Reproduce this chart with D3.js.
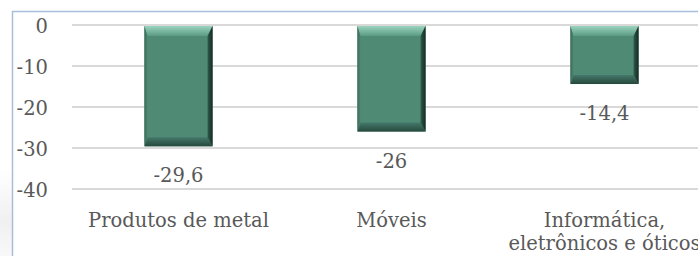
<!DOCTYPE html>
<html><head><meta charset="utf-8">
<script src="https://cdn.jsdelivr.net/npm/d3@7"></script>
<style>html,body{margin:0;padding:0;background:#fff;}svg{display:block;}</style>
</head><body>
<script>
const categories = ["Produtos de metal", "Móveis", "Informática, eletrônicos e óticos"];
const values = [-29.6, -26, -14.4];
const valueLabels = ["-29,6", "-26", "-14,4"];
const yTicks = [0, -10, -20, -30, -40];

const W = 698, H = 256;
const font = "'DejaVu Serif', serif";
const fs = 19.5;
const textColor = "#595959";

const svg = d3.select("body").append("svg").attr("width", W).attr("height", H);

const defs = svg.append("defs");
const gTop = defs.append("linearGradient").attr("id","gTop").attr("x1",0).attr("y1",0).attr("x2",0).attr("y2",1);
gTop.append("stop").attr("offset","0%").attr("stop-color","#9ad4bf");
gTop.append("stop").attr("offset","100%").attr("stop-color","#5c9a83");
const gBot = defs.append("linearGradient").attr("id","gBot").attr("x1",0).attr("y1",0).attr("x2",0).attr("y2",1);
gBot.append("stop").attr("offset","0%").attr("stop-color","#44786a");
gBot.append("stop").attr("offset","100%").attr("stop-color","#26483c");
const gRight = defs.append("linearGradient").attr("id","gRight").attr("x1",0).attr("y1",0).attr("x2",1).attr("y2",0);
gRight.append("stop").attr("offset","0%").attr("stop-color","#2f5a4b");
gRight.append("stop").attr("offset","100%").attr("stop-color","#152a22");
const gLeft = defs.append("linearGradient").attr("id","gLeft").attr("x1",0).attr("y1",0).attr("x2",1).attr("y2",0);
gLeft.append("stop").attr("offset","0%").attr("stop-color","#3a6b59");
gLeft.append("stop").attr("offset","100%").attr("stop-color","#4d8670");
const gShadow = defs.append("linearGradient").attr("id","gShadow").attr("x1",0).attr("y1",0).attr("x2",0).attr("y2",1);
gShadow.append("stop").attr("offset","0%").attr("stop-color","#f0f0f0").attr("stop-opacity",0);
gShadow.append("stop").attr("offset","60%").attr("stop-color","#f0f0f0").attr("stop-opacity",1);
gShadow.append("stop").attr("offset","100%").attr("stop-color","#f3f3f3").attr("stop-opacity",0.6);

// border
svg.append("rect").attr("x",0).attr("y",170).attr("width",12).attr("height",86).attr("fill","url(#gShadow)");
svg.append("path").attr("d",`M12.5,${H} L12.5,11.5 L${W},11.5`).attr("fill","none").attr("stroke","#a7bedb").attr("stroke-width",1.5);

const y = d3.scaleLinear().domain([-40, 0]).range([189, 25]);
const x = d3.scaleBand().domain(categories).range([72, 711]).paddingInner(0.68).paddingOuter(0.34);

// gridlines
svg.append("g").selectAll("line").data(yTicks).join("line")
  .attr("x1", 72).attr("x2", W).attr("y1", d => y(d)).attr("y2", d => y(d))
  .attr("stroke", "#d9d9d9").attr("stroke-width", 1.8);

// y axis labels
const yAxis = d3.axisLeft(y).tickValues(yTicks).tickSize(0).tickPadding(0).tickFormat(d => d3.format("d")(d).replace("−","-"));
const yg = svg.append("g").attr("transform","translate(48,0)").call(yAxis);
yg.select(".domain").remove();
yg.selectAll("text").attr("font-family", font).attr("font-size", fs).attr("fill", textColor).attr("dy","0.36em");

// bars
const bars = svg.append("g").selectAll("g").data(categories).join("g");
bars.each(function(c, i) {
  const g = d3.select(this);
  const x0 = x(c), x1 = x(c) + x.bandwidth();
  const y0 = y(0) + 1, y1 = y(values[i]);
  const bt = 10, bb = 9, bl = 3, br = 5;
  g.append("rect").attr("x", x0).attr("y", y0).attr("width", x1 - x0).attr("height", y1 - y0).attr("fill", "#4f8a74");
  g.append("path").attr("d", `M${x0},${y0} L${x1},${y0} L${x1-br},${y0+bt} L${x0+bl},${y0+bt} Z`).attr("fill","url(#gTop)");
  g.append("path").attr("d", `M${x0},${y1} L${x1},${y1} L${x1-br},${y1-bb} L${x0+bl},${y1-bb} Z`).attr("fill","url(#gBot)");
  g.append("path").attr("d", `M${x1},${y0} L${x1},${y1} L${x1-br},${y1-bb} L${x1-br},${y0+bt} Z`).attr("fill","url(#gRight)");
  g.append("path").attr("d", `M${x0},${y0} L${x0},${y1} L${x0+bl},${y1-bb} L${x0+bl},${y0+bt} Z`).attr("fill","url(#gLeft)");
});

// value labels
svg.append("g").selectAll("text").data(categories).join("text")
  .attr("x", c => x(c) + x.bandwidth()/2)
  .attr("y", (c, i) => y(values[i]) + 36)
  .attr("text-anchor","middle").attr("font-family", font).attr("font-size", fs).attr("fill", textColor)
  .text((c, i) => valueLabels[i]);

// category labels
const cg = svg.append("g").selectAll("text").data(categories).join("text")
  .attr("text-anchor","middle").attr("font-family", font).attr("font-size", fs).attr("fill", textColor);
cg.each(function(c) {
  const t = d3.select(this);
  const cx = x(c) + x.bandwidth()/2;
  const idx = c.indexOf(", ");
  const lines = idx >= 0 ? [c.slice(0, idx + 1), c.slice(idx + 2)] : [c];
  lines.forEach((l, k) => t.append("tspan").attr("x", cx).attr("y", 227 + k * 23).text(l));
});
</script>
</body></html>
